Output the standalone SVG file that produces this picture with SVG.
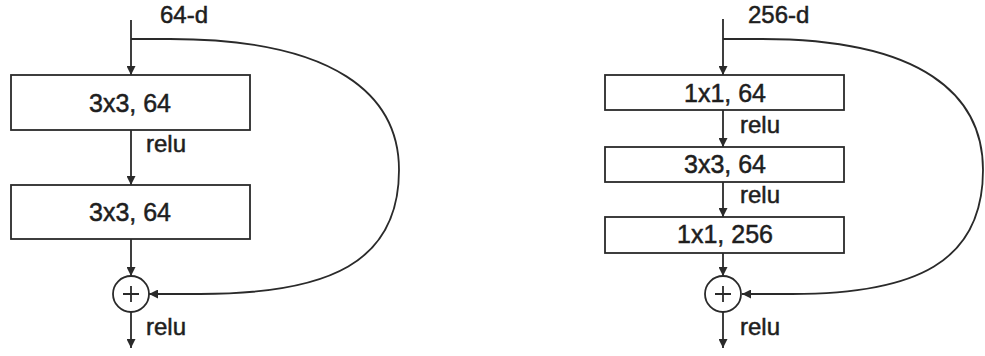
<svg xmlns="http://www.w3.org/2000/svg" width="985" height="356" viewBox="0 0 985 356">
<style>
.box{fill:#fff;stroke:#2a2a2a;stroke-width:1.8}
.ln{fill:none;stroke:#2a2a2a;stroke-width:1.8}
.t{font-family:"Liberation Sans",Arial,sans-serif;font-size:25px;fill:#1e1e1e;stroke:#1e1e1e;stroke-width:0.5;text-anchor:middle}
.lbl{font-family:"Liberation Sans",Arial,sans-serif;font-size:24px;fill:#1e1e1e;stroke:#1e1e1e;stroke-width:0.5}
</style>
<defs>
<marker id="ah" viewBox="0 0 10 10" refX="10" refY="5" markerWidth="9" markerHeight="9" markerUnits="userSpaceOnUse" orient="auto">
<path d="M0,0 L10,5 L0,10 Z" fill="#2a2a2a"/>
</marker>
</defs>
<rect width="985" height="356" fill="#fff"/>
<g id="connectors">
<path class="ln" d="M131,20 L131,75" marker-end="url(#ah)"/>
<path class="ln" d="M131,130 L131,185" marker-end="url(#ah)"/>
<path class="ln" d="M131,239 L131,276" marker-end="url(#ah)"/>
<path class="ln" d="M131,312 L131,348" marker-end="url(#ah)"/>
<path class="ln" d="M131,39 L170,39 C335,39 399,95 399,170 C399,262 330,294 200,294 L149,294" marker-end="url(#ah)"/>
<path class="ln" d="M723,19 L723,75" marker-end="url(#ah)"/>
<path class="ln" d="M723,110 L723,147" marker-end="url(#ah)"/>
<path class="ln" d="M723,182 L723,217" marker-end="url(#ah)"/>
<path class="ln" d="M723,253 L723,276" marker-end="url(#ah)"/>
<path class="ln" d="M723,312 L723,348" marker-end="url(#ah)"/>
<path class="ln" d="M723,39 L762,39 C922,39 983,95 983,170 C983,262 916,294 792,294 L742,294" marker-end="url(#ah)"/>
</g>
<g id="label-64d"><text class="lbl" x="160" y="23">64-d</text></g>
<g id="node-l1"><rect class="box" x="11" y="75" width="239" height="55"/><text class="t" x="130" y="112">3x3, 64</text></g>
<g id="label-l-relu1"><text class="lbl" x="146" y="152">relu</text></g>
<g id="node-l2"><rect class="box" x="11" y="185" width="239" height="54"/><text class="t" x="130" y="221">3x3, 64</text></g>
<g id="node-l-add"><circle class="ln" cx="131" cy="294" r="18" fill="#fff"/><path class="ln" d="M123,294 H139 M131,286 V302"/></g>
<g id="label-l-relu2"><text class="lbl" x="146" y="335">relu</text></g>
<g id="label-256d"><text class="lbl" x="748" y="23">256-d</text></g>
<g id="node-r1"><rect class="box" x="605" y="75" width="239" height="35"/><text class="t" x="725" y="102">1x1, 64</text></g>
<g id="label-r-relu1"><text class="lbl" x="740" y="133">relu</text></g>
<g id="node-r2"><rect class="box" x="605" y="147" width="239" height="35"/><text class="t" x="725" y="173">3x3, 64</text></g>
<g id="label-r-relu2"><text class="lbl" x="740" y="203">relu</text></g>
<g id="node-r3"><rect class="box" x="605" y="217" width="239" height="36"/><text class="t" x="725" y="243">1x1, 256</text></g>
<g id="node-r-add"><circle class="ln" cx="723" cy="294" r="18" fill="#fff"/><path class="ln" d="M715,294 H731 M723,286 V302"/></g>
<g id="label-r-relu3"><text class="lbl" x="740" y="335">relu</text></g>
</svg>
